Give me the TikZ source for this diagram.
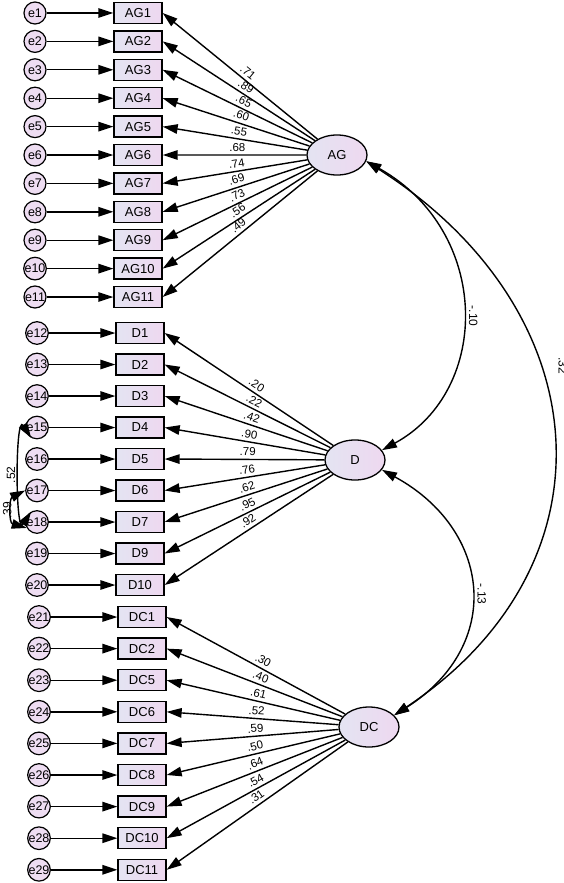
\documentclass[tikz,border=0pt]{standalone}
\usepackage{fontspec}
\setmainfont{Liberation Sans}
\usetikzlibrary{arrows.meta,shapes.geometric}
\definecolor{boxL}{HTML}{E4E4F2}
\definecolor{boxR}{HTML}{EED8F0}
\definecolor{circF}{HTML}{EEDDF2}
\tikzset{
 obs/.style={draw, line width=1.3pt, minimum width=48pt, minimum height=21pt, inner sep=0pt, left color=boxL, right color=boxR, font=\fontsize{13}{15}\selectfont},
 err/.style={circle, draw, line width=1.2pt, minimum size=22pt, inner sep=0pt, fill=circF, font=\fontsize{12.5}{14}\selectfont},
 lat/.style={ellipse, draw, line width=1.3pt, minimum width=60pt, minimum height=40pt, inner sep=0pt, left color=boxL, right color=boxR, font=\fontsize{13}{15}\selectfont},
 tip/.tip={Triangle[length=15pt,width=9.5pt]},
 arr/.style={line width=1.4pt, -tip},
 cov/.style={line width=1.4pt, tip-tip},
 lab/.style={font=\fontsize{11.5}{13}\selectfont, sloped, above=1.5pt, pos=0.48, inner sep=1.5pt},
 clab/.style={font=\fontsize{12}{13}\selectfont, inner sep=6pt},
}
\begin{document}
\begin{tikzpicture}[x=1pt,y=-1pt]
\useasboundingbox (0,0) rectangle (564,883);
\node[lat] (AG) at (337,155) {AG};
\node[lat] (D) at (355,460) {D};
\node[lat] (DC) at (369,727) {DC};
% AG block
\foreach \v [count=\i] in {.71,.89,.65,.60,.55,.68,.74,.69,.73,.56,.49} {
  \pgfmathsetmacro\yy{13+28.4*(\i-1)}
  \node[err] (e\i) at (35,\yy) {e\i};
  \node[obs] (AG\i) at (138,\yy) {AG\i};
  \draw[arr] (e\i) -- (AG\i);
  \draw[arr] (AG) -- (AG\i.east) node[lab] {\v};
}
% D block
\foreach \nm/\v [count=\k] in {D1/.20,D2/.22,D3/.42,D4/.90,D5/.79,D6/.76,D7/.62,D9/.95,D10/.92} {
  \pgfmathsetmacro\yy{333+31.5*(\k-1)}
  \pgfmathtruncatemacro\ee{\k+11}
  \node[err] (e\ee) at (37,\yy) {e\ee};
  \node[obs] (\nm) at (140,\yy) {\nm};
  \draw[arr] (e\ee) -- (\nm);
  \draw[arr] (D) -- (\nm.east) node[lab] {\v};
}
% DC block
\foreach \nm/\v [count=\k] in {DC1/.30,DC2/.40,DC5/.61,DC6/.52,DC7/.59,DC8/.50,DC9/.64,DC10/.54,DC11/.31} {
  \pgfmathsetmacro\yy{617+31.6*(\k-1)}
  \pgfmathtruncatemacro\ee{\k+20}
  \node[err] (e\ee) at (39,\yy) {e\ee};
  \node[obs] (\nm) at (142,\yy) {\nm};
  \draw[arr] (e\ee) -- (\nm);
  \draw[arr] (DC) -- (\nm.east) node[lab] {\v};
}
% latent covariances
\draw[cov] (AG.-12) .. controls +(125,70) and +(110,-60) .. (D.20)
  node[clab, pos=0.52, rotate=-90, anchor=south] (cAGD) {-.10};
\draw[cov] (D.-20) .. controls +(110,60) and +(110,-70) .. (DC.25)
  node[clab, pos=0.52, rotate=-90, anchor=south] (cDDC) {-.13};
\draw[cov] (AG.-12) .. controls +(235,150) and +(225,-150) .. (DC.25)
  node[clab, pos=0.38, rotate=-90, anchor=south, inner sep=19pt] (cAGDC) {.32};
% error covariances
\draw[cov] (e15.240) .. controls +(-16,-25) and +(-16,25) .. (e18.120)
  node[clab, pos=0.5, rotate=90, anchor=south, inner sep=3pt] (c1518) {.52};
\draw[cov] (e17.180) .. controls +(-16,8) and +(-18,-5) .. (e18.210)
  node[clab, pos=0.5, rotate=90, anchor=south, inner sep=1pt] (c1718) {.39};
\end{tikzpicture}
\end{document}
